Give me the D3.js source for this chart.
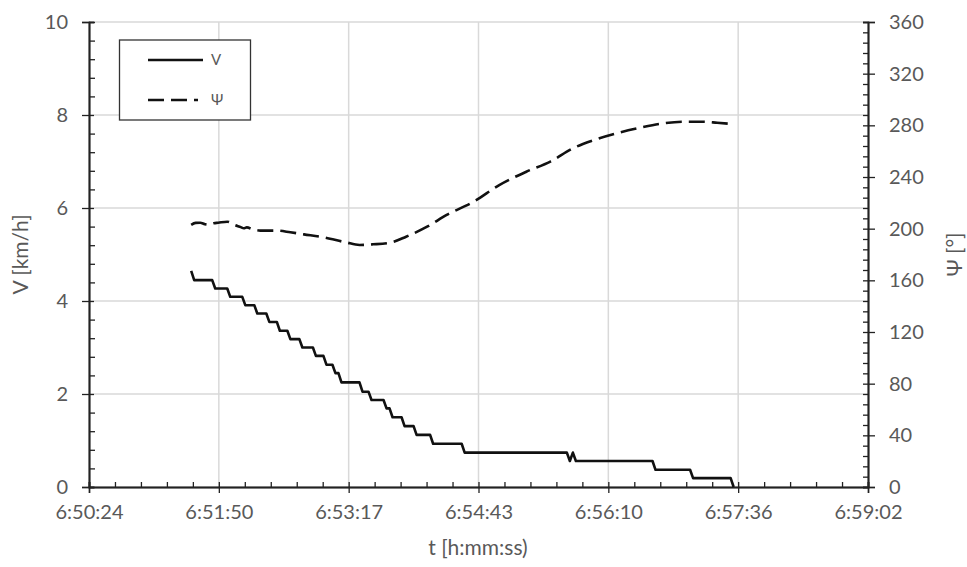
<!DOCTYPE html>
<html><head><meta charset="utf-8">
<script src="https://cdn.jsdelivr.net/npm/d3@7/dist/d3.min.js"></script>
<style>
body{margin:0;background:#fff;}
svg{display:block;}
text{font-family:Lato,"Open Sans",sans-serif;fill:#595959;}
</style>
</head><body>
<svg id="chart" width="967" height="567"></svg>
<script>
// ---- data ----
const vTimes = ["6:51:32","6:51:34","6:51:46","6:51:48","6:51:56","6:51:58","6:52:06","6:52:08",
  "6:52:14","6:52:16","6:52:22","6:52:24","6:52:29","6:52:31","6:52:36","6:52:38","6:52:44","6:52:46",
  "6:52:53","6:52:55","6:53:00","6:53:02","6:53:06","6:53:08","6:53:10","6:53:12","6:53:24","6:53:26",
  "6:53:30","6:53:32","6:53:40","6:53:42","6:53:44","6:53:46","6:53:52","6:53:54","6:54:00","6:54:02",
  "6:54:11","6:54:13","6:54:32","6:54:34","6:55:42","6:55:44","6:55:46","6:55:48","6:56:39","6:56:41",
  "6:57:04","6:57:06","6:57:31","6:57:33"];
const vValues = [4.65,4.45,4.45,4.27,4.27,4.09,4.09,3.91,
  3.91,3.73,3.73,3.55,3.55,3.36,3.36,3.18,3.18,3.00,
  3.00,2.82,2.82,2.63,2.63,2.45,2.45,2.25,2.25,2.05,
  2.05,1.87,1.87,1.69,1.69,1.50,1.50,1.31,1.31,1.12,
  1.12,0.93,0.93,0.74,0.74,0.56,0.74,0.56,0.56,0.37,
  0.37,0.19,0.19,0];

const psiTimes = ["6:51:32","6:51:35","6:51:38","6:51:41","6:51:43","6:51:47","6:51:50","6:51:56","6:52:01",
  "6:52:05","6:52:07","6:52:09","6:52:13","6:52:18","6:52:29","6:52:38","6:52:47","6:53:00","6:53:15","6:53:24",
  "6:53:33","6:53:44","6:53:55","6:54:09","6:54:22","6:54:40","6:54:57","6:55:15","6:55:31","6:55:46",
  "6:56:00","6:56:15","6:56:31","6:56:46","6:57:00","6:57:13","6:57:22","6:57:32"];
const psiValues = [203,204.5,204.6,203.5,203,204.2,204.6,205.4,202.8,
  201.2,200.3,201,199.5,198.5,198.5,197.2,195.6,193.3,189.4,187.4,
  187.9,189.1,193.8,201.5,210.6,220.9,233.8,244.1,251.9,262.2,
  268.6,273.8,278.2,281.5,282.8,282.8,282,281];

const xTickLabels = ["6:50:24","6:51:50","6:53:17","6:54:43","6:56:10","6:57:36","6:59:02"];
const vTicks = [0,2,4,6,8,10];
const psiTicks = [0,40,80,120,160,200,240,280,320,360];
const legendLabels = ["V","Ψ"];

// ---- helpers ----
const sec = s => { const [h,m,x] = s.split(":").map(Number); return h*3600+m*60+x; };
const DAY = 86400;
const xStart = 0.285*DAY, xEnd = 0.291*DAY, xStep = 0.001*DAY;

const L = 89, R = 868, T = 22, B = 487;
const svg = d3.select("#chart");
const x = d3.scaleLinear().domain([xStart,xEnd]).range([L,R]);
const yV = d3.scaleLinear().domain([0,10]).range([B,T]);
const yP = d3.scaleLinear().domain([0,360]).range([B,T]);

const xMajor = d3.range(7).map(i => xStart + i*xStep);
const xMinor = d3.range(31).map(i => xStart + i*xStep/5).filter((d,i)=> i%5!==0);
const vMinor = d3.range(26).map(i => i*0.4).filter(d => Math.abs(d/2-Math.round(d/2))>1e-6);
const pMinor = d3.range(46).map(i => i*8).filter(d => d%40!==0);

// grid
const grid = svg.append("g");
grid.selectAll("line.v").data(xMajor.slice(1,-1)).join("line")
  .attr("x1",d=>x(d)).attr("x2",d=>x(d)).attr("y1",T).attr("y2",B)
  .attr("stroke","#d9d9d9").attr("stroke-width",1.5);
grid.selectAll("line.h").data(vTicks.slice(1)).join("line")
  .attr("x1",L).attr("x2",R).attr("y1",d=>yV(d)).attr("y2",d=>yV(d))
  .attr("stroke","#d9d9d9").attr("stroke-width",1.5);

function styleAxis(g){
  g.select(".domain").attr("stroke","#222").attr("stroke-width",1.5);
  g.selectAll(".tick line").attr("stroke","#222").attr("stroke-width",1.3);
  g.selectAll(".tick text").attr("fill","#595959").style("font-size","20px").style("font-family","Lato,'Open Sans',sans-serif");
}

// x axis
const gx = svg.append("g").attr("transform",`translate(0,${B})`);
gx.append("g").call(d3.axisBottom(x).tickValues(xMinor).tickSize(-5).tickFormat("")).call(styleAxis);
gx.append("g").call(d3.axisBottom(x).tickValues(xMajor).tickSize(-5).tickFormat("")).call(styleAxis);
gx.append("g").call(d3.axisBottom(x).tickValues(xMajor).tickSize(6).tickPadding(12)
  .tickFormat((d,i)=>xTickLabels[i])).call(styleAxis);

// left axis
const gl = svg.append("g").attr("transform",`translate(${L},0)`);
gl.append("g").call(d3.axisLeft(yV).tickValues(vMinor).tickSize(-6).tickFormat("")).call(styleAxis);
gl.append("g").call(d3.axisLeft(yV).tickValues(vTicks).tickSize(-5).tickFormat("")).call(styleAxis);
gl.append("g").call(d3.axisLeft(yV).tickValues(vTicks).tickSize(7).tickPadding(14)
  .tickFormat(d3.format("d"))).call(styleAxis);

// right axis
const gr = svg.append("g").attr("transform",`translate(${R},0)`);
gr.append("g").call(d3.axisRight(yP).tickValues(pMinor).tickSize(-5).tickFormat("")).call(styleAxis);
gr.append("g").call(d3.axisRight(yP).tickValues(psiTicks).tickSize(-5).tickFormat("")).call(styleAxis);
gr.append("g").call(d3.axisRight(yP).tickValues(psiTicks).tickSize(7).tickPadding(14)
  .tickFormat(d3.format("d"))).call(styleAxis);

// lines
const vData = vTimes.map((t,i)=>({t:sec(t), v:vValues[i]}));
const pData = psiTimes.map((t,i)=>({t:sec(t), v:psiValues[i]}));

svg.append("path").datum(pData)
  .attr("fill","none").attr("stroke","#111").attr("stroke-width",2.6)
  .attr("stroke-dasharray","16,7")
  .attr("d", d3.line().x(d=>x(d.t)).y(d=>yP(d.v)).curve(d3.curveMonotoneX));

svg.append("path").datum(vData)
  .attr("fill","none").attr("stroke","#111").attr("stroke-width",2.6)
  .attr("stroke-linejoin","round")
  .attr("d", d3.line().x(d=>x(d.t)).y(d=>yV(d.v)));

// axis titles
svg.append("text").attr("x",478).attr("y",555).attr("text-anchor","middle")
  .style("font-size","21px").text("t [h:mm:ss)");
svg.append("text").attr("transform",`translate(28,${(T+B)/2}) rotate(-90)`)
  .attr("text-anchor","middle").style("font-size","21px").text("V [km/h]");
svg.append("text").attr("transform",`translate(962,${(T+B)/2}) rotate(-90)`)
  .attr("text-anchor","middle").style("font-size","21px").text("Ψ [°]");

// legend
const lg = svg.append("g");
lg.append("rect").attr("x",119.5).attr("y",40).attr("width",131).attr("height",80)
  .attr("fill","#fff").attr("stroke","#333").attr("stroke-width",1.3);
const items = [{dash:null, y:60},{dash:"16,7", y:100}];
items.forEach((it,i)=>{
  lg.append("line").attr("x1",148).attr("x2",it.dash?198:203).attr("y1",it.y).attr("y2",it.y)
    .attr("stroke","#111").attr("stroke-width",2.6).attr("stroke-dasharray",it.dash);
  lg.append("text").attr("x",211).attr("y",it.y).attr("dy","0.35em")
    .style("font-size","15px").text(legendLabels[i]);
});
</script>
</body></html>
